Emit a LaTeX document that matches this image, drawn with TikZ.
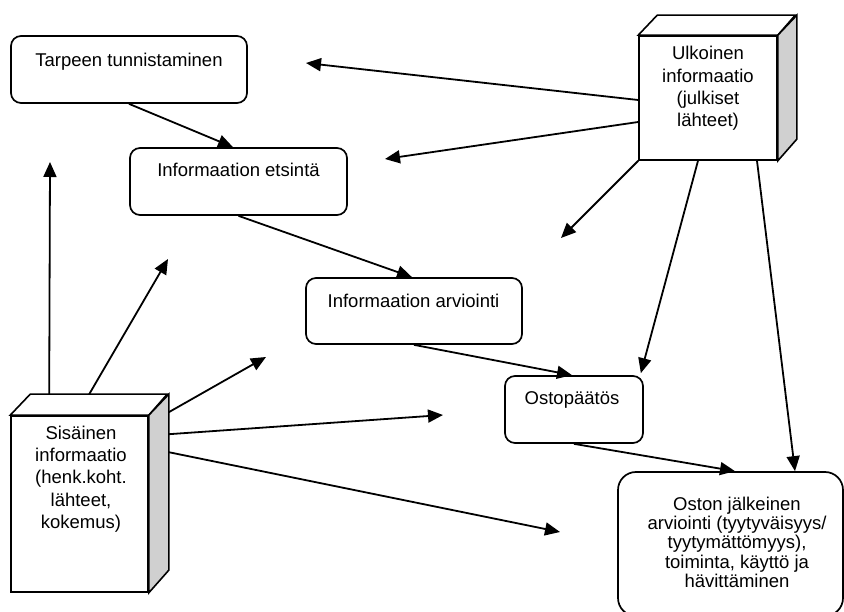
\documentclass[tikz,border=0pt]{standalone}
\usepackage{fontspec}
\setmainfont{Liberation Sans}
\usetikzlibrary{arrows.meta}
\definecolor{sidegray}{HTML}{D0D0D0}
\begin{document}
\begin{tikzpicture}[x=1pt,y=-1pt,
  stage/.style={draw, line width=1.7pt, rounded corners=10pt, fill=white, inner sep=0pt},
  caption/.style={font=\fontsize{18.5pt}{22.2pt}\selectfont, inner sep=0pt, anchor=base},
  face/.style={draw, line width=1.6pt, fill=white, inner sep=0pt, line join=miter},
  flow/.style={line width=1.8pt, -{Triangle[length=15pt,width=13pt]}},
]
\useasboundingbox (0,0) rectangle (844,612);
\clip (0,0) rectangle (844,612);

% process stages
\node[stage, minimum width=236pt, minimum height=67pt] (tarve) at (129,69.5) {};
\node[caption] (tarveT) at (129,66.5) {Tarpeen tunnistaminen};

\node[stage, minimum width=217pt, minimum height=67pt] (etsi) at (238.5,181.5) {};
\node[caption] (etsiT) at (238.5,177) {Informaation etsintä};

\node[stage, minimum width=216pt, minimum height=66pt] (arvi) at (414,311) {};
\node[caption] (arviT) at (413.5,307.5) {Informaation arviointi};

\node[stage, minimum width=138pt, minimum height=67pt] (osto) at (574,409.5) {};
\node[caption] (ostoT) at (572,405) {Ostopäätös};

\node[stage, rounded corners=18pt, minimum width=225pt, minimum height=144pt] (jalk) at (730.5,544) {};
\node[caption, font=\fontsize{18.5pt}{19.4pt}\selectfont] (jalkT) at (737,510)
  {\begin{tabular}[t]{@{}c@{}}Oston jälkeinen\\arviointi (tyytyväisyys/\\tyytymättömyys),\\toiminta, käyttö ja\\hävittäminen\end{tabular}};

% external information source (box drawn as a cube)
\node[face, minimum width=138pt, minimum height=124pt] (ext) at (708,98) {};
\draw[face] (ext.north west) -- ++(19,-20) -- ++(138,0) -- (ext.north east) -- cycle;
\draw[face, fill=sidegray] (ext.north east) -- ++(19,-20) -- ++(0,124) -- (ext.south east) -- cycle;
\node[caption] (extT) at (708,60)
  {\begin{tabular}[t]{@{}c@{}}Ulkoinen\\informaatio\\(julkiset\\lähteet)\end{tabular}};

% internal information source (cube)
\node[face, minimum width=137pt, minimum height=176pt] (int) at (79.5,504) {};
\draw[face] (int.north west) -- ++(20,-21) -- ++(137,0) -- (int.north east) -- cycle;
\draw[face, fill=sidegray] (int.north east) -- ++(20,-21) -- ++(0,176) -- (int.south east) -- cycle;
\node[caption] (intT) at (81,439.5)
  {\begin{tabular}[t]{@{}c@{}}Sisäinen\\informaatio\\(henk.koht.\\lähteet,\\kokemus)\end{tabular}};

% open arrow ends
\coordinate (e1) at (306,63);
\coordinate (e2) at (385,159);
\coordinate (e3) at (561,238);
\coordinate (i1) at (50,162);
\coordinate (i2) at (168,259);
\coordinate (i3) at (266,357);
\coordinate (i4) at (443,415);
\coordinate (i5) at (560,532);

% main process flow
\draw[flow] (tarve.south) -- ([xshift=-5.5pt]etsi.north);
\draw[flow] (etsi.south) -- ([xshift=-2pt]arvi.north);
\draw[flow] (arvi.south) -- ([xshift=-2pt]osto.north);
\draw[flow] (osto.south) -- ([xshift=4.5pt]jalk.north);

% external information flows
\draw[flow] ([yshift=-2pt]ext.west) -- (e1);
\draw[flow] ([yshift=-24pt]ext.west) -- (e2);
\draw[flow] (ext.south west) -- (e3);
\draw[flow] ([xshift=-10pt]ext.south) -- ([xshift=-3pt,yshift=2pt]osto.north east);
\draw[flow] ([xshift=49pt]ext.south) -- ([xshift=64.5pt]jalk.north);

% internal information flows
\draw[flow] ([xshift=39pt,yshift=21pt]int.north west) -- (i1);
\draw[flow] ([xshift=79pt,yshift=21pt]int.north west) -- (i2);
\draw[flow] ([xshift=20pt,yshift=3pt]int.north east) -- (i3);
\draw[flow] ([xshift=20pt,yshift=-19pt]int.north east) -- (i4);
\draw[flow] ([xshift=20pt,yshift=-37pt]int.north east) -- (i5);
\end{tikzpicture}
\end{document}
